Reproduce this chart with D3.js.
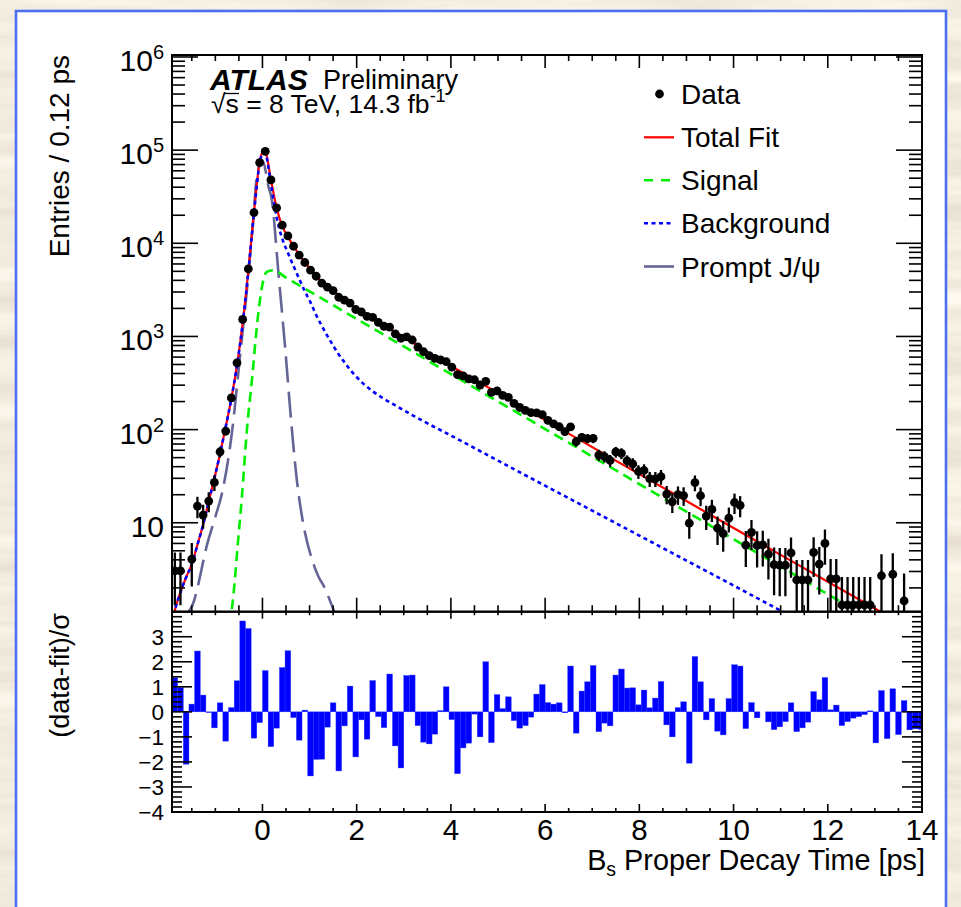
<!DOCTYPE html>
<html><head><meta charset="utf-8">
<script src="https://cdn.jsdelivr.net/npm/d3@7"></script>
<style>
html,body{margin:0;padding:0;background:#fff;}
svg text{font-family:"Liberation Sans",Arial,Helvetica,sans-serif;fill:#000;}
</style></head><body>
<svg id="chart" width="961" height="907"></svg>
<script>
// ---------------- DATA ----------------
const binStart = -1.92, binWidth = 0.12;   // histogram binning (ps)
const entries = [
 3.05, 3.05, null, 4.07, 15.1, 12.1, 17.1, 27.1, 57.8, 96.4,
 219, 521, 1522, 5309, 21380, 73600, 97200, 47860, 23990, 15630,
 11990, 9300, 7450, 6220, 5140, 4430, 3730, 3382, 3110, 2635,
 2449, 2281, 1946, 1831, 1645, 1599, 1416, 1286, 1260, 1068,
 957, 991, 916, 770, 685, 623, 583, 559, 538, 468.5,
 390, 377, 350, 343, 301, 330, 251.5, 261, 233, 222,
 191.7, 172.8, 160.5, 152, 151.4, 144.8, 125.6, 115.5, 107.3, 95.2,
 107.1, 74.2, 82.7, 80.1, 80.6, 53.3, 51.4, 46.6, 57.6, 55.6,
 46.1, 42.8, 35.5, 36.4, 29.7, 29.6, 31.2, 20.3, 16.8, 20.05,
 19.6, 9.9, 27, 19.5, 11.8, 13.9, 8.73, 7.65, 11.2, 16.5,
 15.4, 5.75, 7.9, 5.7, 5.8, 4.6, 3.55, 3.5, 3.5, 4.75,
 2.43, 2.43, 2.43, 4.8, 3.6, 6.0, 2.5, 2.5, 1.31, 1.31,
 1.31, 1.31, 1.31, 1.31, null, 2.7, null, 2.8, null, 1.45,
 null, null, null];
const entryErrors = [
 1.75, 1.75, null, 2.0, 3.9, 3.5, 4.1, 5.2, 7.6, 9.8,
 14.8, 22.8, 39, 73, 146, 271, 312, 219, 155, 125,
 109.5, 96.4, 86.3, 78.9, 71.7, 66.6, 61.1, 58.2, 55.8, 51.3,
 49.5, 47.8, 44.1, 42.8, 40.6, 40, 37.6, 35.9, 35.5, 32.7,
 30.9, 31.5, 30.3, 27.7, 26.2, 25, 24.1, 23.6, 23.2, 21.6,
 19.7, 19.4, 18.7, 18.5, 17.3, 18.2, 15.9, 16.2, 15.3, 14.9,
 13.8, 13.1, 12.7, 12.3, 12.3, 12.0, 11.2, 10.7, 10.4, 9.76,
 10.3, 8.61, 9.09, 8.95, 8.98, 7.3, 7.17, 6.83, 7.59, 7.46,
 6.79, 6.54, 5.96, 6.03, 5.45, 5.44, 5.59, 4.51, 4.1, 4.48,
 4.43, 3.15, 5.2, 4.42, 3.44, 3.73, 2.95, 2.77, 3.35, 4.06,
 3.92, 2.4, 2.81, 2.39, 2.41, 2.14, 1.88, 1.87, 1.87, 2.18,
 1.56, 1.56, 1.56, 2.19, 1.9, 2.45, 1.58, 1.58, 1.3, 1.3,
 1.3, 1.3, 1.3, 1.3, null, 1.9, null, 1.9, null, 1.4,
 null, null, null];
const pulls = [
 1.36, 0.97, -2.09, 0.31, 2.43, 0.67, -0.03, -0.64, 0.36, -1.17,
 0.17, 1.24, 3.63, 3.33, -1.05, -0.43, 1.65, -1.39, -0.65, 1.77,
 2.44, -0.23, -1.13, 0.07, -2.56, -1.9, -1.89, -0.61, 0.36, -2.36,
 -0.56, 1.03, -1.8, -0.32, -1.09, 1.25, -0.19, -0.63, 1.51, -1.36,
 -2.24, 1.45, 1.47, -0.55, -1.21, -1.28, -0.89, 0.05, 1.0, -0.31,
 -2.47, -1.44, -1.25, -0.09, -1.0, 2.0, -1.23, 0.69, 0.13, 0.6,
 -0.35, -0.65, -0.55, -0.21, 0.71, 1.09, 0.37, 0.31, 0.36, -0.04,
 1.83, -0.85, 0.83, 1.2, 1.85, -0.79, -0.45, -0.56, 1.47, 1.71,
 0.95, 0.96, 0.28, 0.87, 0.16, 0.55, 1.21, -0.52, -1.0, 0.17,
 0.4, -2.05, 2.21, 1.2, -0.32, 0.53, -0.77, -0.92, 0.53, 1.88,
 1.83, -0.67, 0.37, -0.24, 0.0, -0.4, -0.71, -0.6, -0.39, 0.36,
 -0.79, -0.64, -0.41, 0.81, 0.48, 1.37, 0.08, 0.27, -0.55, -0.39,
 -0.25, -0.19, -0.11, 0.04, -1.24, 0.85, -1.07, 0.92, -0.91, 0.45,
 -0.72, -0.68, -0.7];

const totalFitTime = [-1.92,-1.86,-1.74,-1.62,-1.50,-1.38,-1.26,-1.14,-1.02,-0.90,-0.78,-0.66,-0.54,-0.42,-0.30,-0.18,-0.06,0.02,0.06,0.18,0.30,0.42,0.54,0.66,0.78,0.90,1.02,1.14,1.26,1.38,1.50,1.62,1.74,1.86,1.98,2.10,2.22,2.34,2.46,2.58,2.70,2.82,2.94,3.06,3.18,3.30,3.42,3.9,4.5,5.0,6.0,7.0,8.0,9.0,10.0,11.0,12.0,13.0,13.5,14.0];
const totalFit = [0.85,1.15,1.8,2.6,3.6,5.8,9.5,17,30,55,107,216,493,1380,5070,21530,73700,99000,96700,48200,24100,15400,11720,9320,7550,6210,5300,4520,3830,3418,3090,2756,2477,2232,2025,1845,1689,1549,1423,1309,1207,1113,1026,946,868,790,720,515,345,247,126.5,64.9,33.3,17.1,8.79,4.52,2.33,1.2,0.862,0.62];

const backgroundTime = [-1.92,-1.86,-1.74,-1.62,-1.50,-1.38,-1.26,-1.14,-1.02,-0.90,-0.78,-0.66,-0.54,-0.42,-0.30,-0.18,-0.06,0.02,0.06,0.18,0.30,0.42,0.54,0.66,0.78,0.90,1.02,1.14,1.26,1.38,1.50,1.62,1.74,1.86,1.98,2.10,2.22,2.34,2.46,2.58,2.70,2.82,2.94,3.06,3.18,3.30,3.42,4.0,5.0,6.0,7.0,8.0,9.0,10.0,11.0,12.0];
const background = [0.85,1.15,1.8,2.6,3.6,5.8,9.5,17,30,55,107,215,490,1370,4950,20980,71800,94500,92400,43100,19100,11200,7900,5700,4150,3050,2320,1700,1300,1010,800,640,530,440,375,325,288,258,234,214,197,182,168,155,143,133,123,86.5,46.4,25.0,13.5,7.28,3.93,2.12,1.14,0.616];

const signalTime = [-0.70,-0.66,-0.62,-0.53,-0.44,-0.33,-0.21,-0.12,-0.01,0.09,0.23,0.5,1.0,2.0,3.0,4.0,5.0,6.0,7.0,8.0,9.0,10.0,11.0,12.0,13.0,14.0];
const signal = [0.8,1.1,1.6,5.4,18,99,400,1260,3390,4930,5140,4280,3043,1542,781,395,200.4,101.5,51.4,26.0,13.18,6.67,3.38,1.71,0.868,0.44];

const promptTime = [-1.62,-1.57,-1.5,-1.15,-1.0,-0.86,-0.65,-0.47,-0.33,-0.19,-0.12,0.0,0.13,0.2,0.34,0.48,0.62,0.73,0.84,1.08,1.19,1.30,1.51,1.56];
const prompt = [0.95,1.1,1.26,6.5,11.6,20.6,91,658,3140,19200,52000,78000,40300,29000,4740,773,107,28.7,11.6,3.66,2.63,2.1,1.16,1.0];

const xMajorTicks = [0,2,4,6,8,10,12,14];
const yDecades = [1,2,3,4,5,6];
const pullTicks = [-4,-3,-2,-1,0,1,2,3,4];
const pullLabels = ["\u22124","\u22123","\u22122","\u22121","0","1","2","3"];
const legendItems = ["Data","Total Fit","Signal","Background","Prompt J/\u03c8"];

// ---------------- LAYOUT ----------------
const L = 172, R = 922, T = 55, MID = 611.7, B = 812;
const svg = d3.select("#chart");
const defs = svg.append("defs");

const f = defs.append("filter").attr("id","paper").attr("x",0).attr("y",0).attr("width",1).attr("height",1);
f.append("feTurbulence").attr("type","fractalNoise").attr("baseFrequency","0.004 0.045").attr("numOctaves",4).attr("seed",7);
f.append("feColorMatrix").attr("type","matrix")
 .attr("values","0.35 0 0 0 0.72  0.35 0 0 0 0.66  0.35 0 0 0 0.57  0 0 0 0 1");
svg.append("rect").attr("width",961).attr("height",907).attr("filter","url(#paper)");

svg.append("rect").attr("x",16).attr("y",11).attr("width",930).attr("height",905)
  .attr("fill","#fff").attr("stroke","#4a6fef").attr("stroke-width",2.6);

const x = d3.scaleLinear().domain([binStart, 14]).range([L, R]);
const y = d3.scaleLog().domain([1.11, 1.05e6]).range([MID, T]);
const yp = d3.scaleLinear().domain([-4, 4]).range([B, MID]);

defs.append("clipPath").attr("id","clipU").append("rect").attr("x",L).attr("y",T).attr("width",R-L).attr("height",MID-T);
defs.append("clipPath").attr("id","clipL").append("rect").attr("x",L).attr("y",MID).attr("width",R-L).attr("height",B-MID);

const bins = entries.map((v,i)=>({
  lo: binStart + i*binWidth,
  hi: Math.min(14, binStart + (i+1)*binWidth),
  c: binStart + (i+0.5)*binWidth,
  v: v, e: entryErrors[i], p: pulls[i]
}));

// ---------------- UPPER PANEL ----------------
const gU = svg.append("g").attr("clip-path","url(#clipU)");
const mkLine = (ts, vs) => d3.line().x((d,i)=>x(ts[i])).y((d,i)=>y(vs[i])).curve(d3.curveMonotoneX)(vs);

gU.append("path").attr("d", mkLine(promptTime, prompt)).attr("fill","none")
  .attr("stroke","#646496").attr("stroke-width",2.6).attr("stroke-dasharray","26,9");
gU.append("path").attr("d", mkLine(signalTime, signal)).attr("fill","none")
  .attr("stroke","#00ee00").attr("stroke-width",2.6).attr("stroke-dasharray","10,6");
gU.append("path").attr("d", mkLine(totalFitTime, totalFit)).attr("fill","none")
  .attr("stroke","#ff0000").attr("stroke-width",2.2);
gU.append("path").attr("d", mkLine(backgroundTime, background)).attr("fill","none")
  .attr("stroke","#0000ff").attr("stroke-width",2.6).attr("stroke-dasharray","4,3.5");

const pts = bins.filter(b => b.v !== null);
gU.selectAll("line.err").data(pts).join("line").attr("class","err")
  .attr("x1", d=>x(d.c)).attr("x2", d=>x(d.c))
  .attr("y1", d=>y(Math.max(d.v + d.e, 1e-3)))
  .attr("y2", d=> (d.v - d.e) > 0.5 ? y(d.v - d.e) : MID + 5)
  .attr("stroke","#000").attr("stroke-width",2.3);
gU.selectAll("circle.pt").data(pts).join("circle").attr("class","pt")
  .attr("cx", d=>x(d.c)).attr("cy", d=>y(d.v)).attr("r",4.4).attr("fill","#000");

// ---------------- LOWER PANEL ----------------
const gL = svg.append("g").attr("clip-path","url(#clipL)");
gL.selectAll("rect.bar").data(bins).join("rect").attr("class","bar")
  .attr("x", d=>x(d.lo)).attr("width", d=>x(d.hi)-x(d.lo))
  .attr("y", d=>yp(Math.max(0,d.p))).attr("height", d=>Math.abs(yp(d.p)-yp(0)))
  .attr("fill","#0000ff").attr("stroke","#2a3cff").attr("stroke-width",0.4);

// ---------------- AXES ----------------
const ax = svg.append("g").attr("stroke","#000");
function tick(x1,y1,x2,y2,w){ ax.append("line").attr("x1",x1).attr("y1",y1).attr("x2",x2).attr("y2",y2).attr("stroke-width",w||1.6); }

const xMinor = d3.range(-1.5, 14.001, 0.5).filter(t => !xMajorTicks.includes(t));
xMajorTicks.forEach(t => { tick(x(t),MID,x(t),MID-14); tick(x(t),T,x(t),T+13); });
xMinor.forEach(t => { tick(x(t),MID,x(t),MID-6.5); tick(x(t),T,x(t),T+6); });
xMajorTicks.forEach(t => { tick(x(t),B,x(t),B-8); tick(x(t),MID,x(t),MID+7); });
xMinor.forEach(t => { tick(x(t),B,x(t),B-4); tick(x(t),MID,x(t),MID+3.5); });
yDecades.forEach(d => { const v = Math.pow(10,d); tick(L,y(v),L+26,y(v)); tick(R,y(v),R-26,y(v)); });
yDecades.concat([0]).forEach(d => {
  for (let k=2;k<=9;k++){ const v=k*Math.pow(10,d); if (v>1.11 && v<1.05e6){ tick(L,y(v),L+13,y(v)); tick(R,y(v),R-13,y(v)); } }
});
pullTicks.forEach(v => { tick(L,yp(v),L+20,yp(v)); tick(R,yp(v),R-20,yp(v)); });
d3.range(-4,4.001,0.2).forEach(v => { if (Math.abs(v-Math.round(v))>0.01){ tick(L,yp(v),L+10,yp(v)); tick(R,yp(v),R-10,yp(v)); } });

svg.append("rect").attr("x",L).attr("y",T).attr("width",R-L).attr("height",MID-T).attr("fill","none").attr("stroke","#000").attr("stroke-width",2);
svg.append("rect").attr("x",L).attr("y",MID).attr("width",R-L).attr("height",B-MID).attr("fill","none").attr("stroke","#000").attr("stroke-width",2);

// ---------------- LABELS ----------------
yDecades.forEach(d => {
  const t = svg.append("text").attr("x",164).attr("y",y(Math.pow(10,d))+14).attr("text-anchor","end").attr("font-size",30);
  t.append("tspan").text("10");
  if (d>1) t.append("tspan").attr("dy",-12).attr("font-size",20).text(String(d));
});
pullTicks.slice(0,8).forEach((v,i) => {
  svg.append("text").attr("x",164).attr("y",yp(v)+8).attr("text-anchor","end").attr("font-size",22.5).text(pullLabels[i]);
});
xMajorTicks.forEach(t => {
  svg.append("text").attr("x",x(t)).attr("y",840).attr("text-anchor","middle").attr("font-size",29.5).text(String(t));
});
const xt = svg.append("text").attr("x",925).attr("y",870).attr("text-anchor","end").attr("font-size",28.8);
xt.append("tspan").text("B");
xt.append("tspan").attr("dy",6).attr("font-size",19.5).text("s");
xt.append("tspan").attr("dy",-6).text(" Proper Decay Time [ps]");

svg.append("text").attr("transform","translate(69,55) rotate(-90)").attr("text-anchor","end").attr("font-size",28).text("Entries / 0.12 ps");
svg.append("text").attr("transform","translate(69,613) rotate(-90)").attr("text-anchor","end").attr("font-size",27).text("(data-fit)/\u03c3");

// ATLAS label
svg.append("text").attr("x",210).attr("y",90).attr("font-size",30).attr("font-weight","bold").attr("font-style","italic").text("ATLAS");
svg.append("text").attr("x",323).attr("y",89).attr("font-size",27).text("Preliminary");
const lum = svg.append("text").attr("x",211).attr("y",113).attr("font-size",26.5);
lum.append("tspan").text("\u221as = 8 TeV, 14.3 fb");
lum.append("tspan").attr("dy",-11).attr("font-size",18).text("-1");
svg.append("line").attr("x1",224).attr("x2",239).attr("y1",93.5).attr("y2",93.5).attr("stroke","#000").attr("stroke-width",1.3);

// legend
const lgY = [94, 137.3, 180.3, 223.3, 266.5];
svg.append("circle").attr("cx",659.5).attr("cy",lgY[0]).attr("r",4.4).attr("fill","#000");
svg.append("line").attr("x1",644).attr("x2",674).attr("y1",lgY[1]).attr("y2",lgY[1]).attr("stroke","#ff0000").attr("stroke-width",2.2);
svg.append("line").attr("x1",644).attr("x2",671).attr("y1",lgY[2]).attr("y2",lgY[2]).attr("stroke","#00ee00").attr("stroke-width",2.6).attr("stroke-dasharray","9,8");
svg.append("line").attr("x1",644).attr("x2",671).attr("y1",lgY[3]).attr("y2",lgY[3]).attr("stroke","#0000ff").attr("stroke-width",2.6).attr("stroke-dasharray","4,3.5");
svg.append("line").attr("x1",644).attr("x2",674).attr("y1",lgY[4]).attr("y2",lgY[4]).attr("stroke","#646496").attr("stroke-width",2.6);
legendItems.forEach((s,i) => {
  svg.append("text").attr("x",681).attr("y",lgY[i]+10).attr("font-size",28).text(s);
});
</script>
</body></html>
